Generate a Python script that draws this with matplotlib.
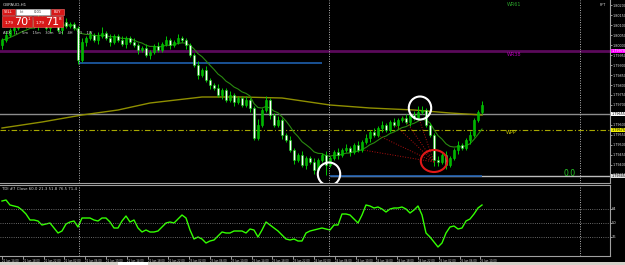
import matplotlib
matplotlib.use("Agg")
import matplotlib.pyplot as plt
import matplotlib.transforms as mtransforms
from matplotlib.patches import Rectangle, Ellipse
import numpy as np
import pandas as pd

# --- data ---
symbol = "GBPAUD,H1"
first_open = 1.80000
closes = [1.80025, 1.80050, 1.80075, 1.80085, 1.80100, 1.80115, 1.80105, 1.80125, 1.80095, 1.80135,
          1.80115, 1.80085, 1.80125, 1.80105, 1.80075, 1.80115, 1.80095, 1.80105, 1.80085, 1.79925,
          1.80015, 1.80035, 1.80050, 1.80025, 1.80045, 1.80060, 1.80035, 1.80015, 1.80045, 1.80025,
          1.80005, 1.80035, 1.80015, 1.80000, 1.79975, 1.79985, 1.79950, 1.79965, 1.79995, 1.79975,
          1.80005, 1.80025, 1.80000, 1.80015, 1.80035, 1.80025, 1.80000, 1.79950, 1.79900, 1.79850,
          1.79875, 1.79825, 1.79800, 1.79785, 1.79750, 1.79775, 1.79725, 1.79750, 1.79715, 1.79735,
          1.79700, 1.79725, 1.79685, 1.79535, 1.79600, 1.79675, 1.79725, 1.79650, 1.79600, 1.79625,
          1.79550, 1.79525, 1.79475, 1.79425, 1.79450, 1.79400, 1.79435, 1.79415, 1.79375, 1.79425,
          1.79450, 1.79400, 1.79435, 1.79465, 1.79450, 1.79475, 1.79485, 1.79465, 1.79500, 1.79475,
          1.79515, 1.79535, 1.79565, 1.79550, 1.79585, 1.79600, 1.79575, 1.79615, 1.79600, 1.79625,
          1.79635, 1.79615, 1.79650, 1.79635, 1.79665, 1.79675, 1.79600, 1.79550, 1.79425, 1.79415,
          1.79450, 1.79400, 1.79435, 1.79475, 1.79500, 1.79485, 1.79525, 1.79550, 1.79625, 1.79665,
          1.79700]
# wick lengths in pips
up_wick = [1, 2, 1, 2, 1, 3, 1, 2, 1, 2, 1, 2, 1, 1, 2, 1, 2, 1, 1, 1,
           2, 1, 2, 1, 2, 3, 1, 2, 1, 1, 2, 1, 1, 2, 1, 1, 2, 1, 1, 2,
           1, 2, 1, 1, 2, 1, 1, 1, 1, 2, 1, 2, 1, 1, 2, 1, 1, 2, 1, 1,
           1, 2, 1, 1, 3, 1, 2, 1, 1, 2, 1, 1, 2, 1, 1, 2, 1, 1, 2, 1,
           1, 2, 1, 1, 2, 1, 2, 1, 1, 2, 1, 2, 1, 2, 1, 2, 1, 1, 2, 1,
           1, 2, 1, 2, 3, 2, 1, 1, 1, 2, 1, 2, 1, 1, 2, 1, 1, 2, 1, 1,
           2]
dn_wick = [2, 1, 1, 2, 1, 1, 2, 1, 1, 2, 1, 1, 2, 1, 1, 2, 1, 1, 1, 2,
           1, 2, 1, 1, 2, 1, 1, 2, 1, 1, 1, 2, 1, 1, 2, 1, 1, 2, 1, 1,
           1, 1, 2, 1, 1, 1, 2, 1, 1, 2, 1, 1, 2, 1, 1, 2, 1, 1, 2, 1,
           1, 1, 2, 1, 1, 1, 1, 2, 1, 1, 2, 1, 1, 2, 1, 1, 2, 1, 2, 1,
           1, 5, 1, 1, 2, 1, 1, 2, 1, 1, 1, 1, 2, 1, 1, 2, 1, 1, 1, 2,
           1, 1, 2, 1, 1, 1, 1, 1, 3, 2, 1, 2, 1, 1, 2, 1, 1, 2, 1, 1,
           1]
osc = [72, 73, 68, 67, 66, 63, 59, 53, 53, 52, 48, 49, 50, 45, 40, 42, 49, 51, 52, 46,
       55, 55, 55, 53, 52, 55, 55, 51, 45, 45, 52, 57, 51, 53, 45, 41, 43, 41, 41, 42,
       46, 50, 51, 50, 54, 58, 55, 43, 34, 36, 34, 30, 32, 33, 37, 41, 40, 40, 42, 42,
       42, 40, 44, 43, 36, 43, 51, 48, 45, 42, 38, 34, 33, 34, 32, 32, 40, 42, 43, 44,
       45, 44, 43, 48, 48, 59, 59, 58, 54, 50, 58, 68, 67, 65, 66, 64, 61, 64, 65, 65,
       66, 64, 60, 63, 67, 58, 40, 36, 31, 26, 30, 40, 46, 47, 44, 45, 52, 54, 59, 65,
       68]
osc_levels = [36, 50, 64]
slow_ma_bars = [0, 10, 20, 29, 37, 50, 60, 70, 82, 92, 103, 112, 120]
slow_ma = [1.79585, 1.79615, 1.79650, 1.79675, 1.79710, 1.79740, 1.79740, 1.79735,
           1.79700, 1.79685, 1.79675, 1.79660, 1.79650]

level_gray = 1.79655
level_wr38 = 1.79970
level_wpp = 1.79575
level_fib0 = 1.79345
blue_lines = [(19, 80, 1.79910), (82, 120, 1.79345)]
separators = [19.25, 81.75, 144.5]
fan_anchor = (108, 1.79415)
fan_bars = [90.25, 92.75, 97.75, 100.25, 103.75]
fan_prices = [1.79475, 1.79560, 1.79610, 1.79640, 1.79660]
white_marks = [(81.75, 1.79355), (104.5, 1.79685)]
red_mark = (108, 1.79420)

time_labels = ["21 Jun 14:00", "21 Jun 18:00", "21 Jun 22:00", "22 Jun 02:00", "22 Jun 06:00",
               "22 Jun 10:00", "22 Jun 14:00", "22 Jun 18:00", "22 Jun 22:00", "23 Jun 02:00",
               "23 Jun 06:00", "23 Jun 10:00", "23 Jun 14:00", "23 Jun 18:00", "23 Jun 22:00",
               "24 Jun 02:00", "24 Jun 06:00", "24 Jun 10:00", "24 Jun 14:00", "24 Jun 18:00",
               "24 Jun 22:00", "25 Jun 02:00", "25 Jun 06:00", "25 Jun 10:00"]
bid_text = ("1.79", "70", "1")
ask_text = ("1.79", "71", "8")
tdi_text = "TDI #7 Close 60.0 21.3 51.8 76.5 71.4"

pip = 0.0001
opens = [first_open] + closes[:-1]
bars = np.arange(len(closes))
highs = [max(o, c) + u * pip for o, c, u in zip(opens, closes, up_wick)]
lows = [min(o, c) - d * pip for o, c, d in zip(opens, closes, dn_wick)]
fast_ma = pd.Series(closes).ewm(span=10, adjust=False).mean()

W, H = 625, 265
fig = plt.figure(figsize=(6.25, 2.65), dpi=100, facecolor="black")
ax = fig.add_axes([0, (H - 183) / H, 610 / W, 183 / H], facecolor="black")
ind = fig.add_axes([0, (H - 256) / H, 610 / W, 71 / H], facecolor="black")

grey = "#a0a0a0"
txt = "#d8d8d8"

# main chart
ax.set_xlim(-0.5, 152)
ax.set_ylim(1.79310, 1.80225)
ax.axhline(level_wr38, color="#5a0a5a", lw=2, zorder=1)
ax.axhline(level_gray, color="#8c8c8c", lw=1, zorder=1)
ax.axhline(level_wpp, color="#a8a800", lw=0.8, ls=(0, (5, 2, 1, 2)), zorder=1)
ax.hlines(level_fib0, 82, 152, color="#bdbdbd", lw=1, zorder=1)
for b0, b1, p in blue_lines:
    ax.hlines(p, b0, b1, color="#1f5fae", lw=1.2, zorder=2)
ax.plot(slow_ma_bars, slow_ma, color="#8f8f00", lw=1, zorder=2)
ax.plot(bars, fast_ma, color="#2a8a10", lw=0.8, zorder=2)

ax.vlines(bars, lows, highs, color="#00c800", lw=0.7, zorder=3)
for i, (o, c) in enumerate(zip(opens, closes)):
    up = c >= o
    ax.bar(i, max(abs(c - o), 0.00002), bottom=min(o, c), width=0.55,
           color="#00b400" if up else "white", edgecolor="#00c800", lw=0.4, zorder=4)

for b, p in zip(fan_bars, fan_prices):
    ax.plot([fan_anchor[0], b], [fan_anchor[1], p], color="#b01010", lw=0.7, ls=":", zorder=3)
for b, p in white_marks:
    ax.add_patch(Ellipse((b, p), 5.6, 0.00115, fill=False, ec="white", lw=1.5, zorder=6))
ax.add_patch(Ellipse(red_mark, 6.6, 0.00110, fill=False, ec="#e01818", lw=1.5, zorder=6))

ticks = np.arange(1.79350, 1.80210, 0.0005)
ax.set_yticks(ticks)
ax.set_yticklabels([f"{t:.5f}" for t in ticks])
ax.yaxis.tick_right()
ax.tick_params(axis="y", colors=txt, labelsize=2.4, length=1.2, pad=0.4, width=0.5)
ax.set_xticks([])
for s in ["top", "left"]:
    ax.spines[s].set_visible(False)
for s in ["right", "bottom"]:
    ax.spines[s].set_color(grey)

trans = mtransforms.blended_transform_factory(ax.transAxes, ax.transData)
for p, bg, fg in [(level_wr38, "#ff00ff", "white"), (level_gray, "white", "black"),
                  (level_wpp, "#f0f000", "black"), (level_fib0, "#e0e0e0", "black")]:
    ax.text(1.003, p, f"{p:.5f}", transform=trans, fontsize=2.4, color=fg, va="center",
            ha="left", bbox=dict(fc=bg, ec="none", pad=0.3), zorder=7, clip_on=False)

# indicator panel
ind.set_xlim(-0.5, 152)
ind.set_ylim(17, 88)
ind.plot(bars, osc, color="#33ff00", lw=1)
for lv in osc_levels:
    ind.axhline(lv, color="#8a8a8a", lw=0.6, ls=":")
ind.set_yticks(osc_levels)
ind.yaxis.tick_right()
ind.tick_params(axis="y", colors=txt, labelsize=2.6, length=1.2, pad=0.4, width=0.5)
ind.set_xticks(np.arange(len(time_labels)) * 5.2)
ind.set_xticklabels(time_labels)
for lbl in ind.get_xticklabels():
    lbl.set_ha("left")
ind.tick_params(axis="x", colors=txt, labelsize=1.9, length=2, pad=0.5, width=0.5)
ind.spines["left"].set_visible(False)
for s in ["top", "right", "bottom"]:
    ind.spines[s].set_color(grey)
ind.text(0.004, 0.97, tdi_text, transform=ind.transAxes, fontsize=2.8, color=txt, va="top")

for a in (ax, ind):
    for x in separators:
        a.axvline(x, color="#b8b8b8", lw=0.7, ls=(0, (1, 1.5)), zorder=2)

# overlay in pixel coordinates for the terminal decorations
ov = fig.add_axes([0, 0, 1, 1], facecolor="none", zorder=10)
ov.set_xlim(0, W)
ov.set_ylim(H, 0)
ov.axis("off")
ov.add_patch(Rectangle((0, 262), W, 3, fc="#d4d0c8", ec="none"))
ov.add_patch(Rectangle((118, 262), 30, 3, fc="white", ec="none"))
ov.text(3, 4.5, symbol, fontsize=3, color=txt, va="center")
red = "#d81818"
for x0, w in [(2, 13), (51, 13)]:
    ov.add_patch(Rectangle((x0, 9), w, 6, fc=red, ec="#ff7070", lw=0.4))
ov.add_patch(Rectangle((16, 9), 34, 6, fc="white", ec="#c0c0c0", lw=0.4))
ov.text(8.5, 12, "SELL", fontsize=2.6, color="white", ha="center", va="center")
ov.text(57.5, 12, "BUY", fontsize=2.6, color="white", ha="center", va="center")
ov.text(20, 12, "lot", fontsize=2.4, color="#606060", va="center")
ov.text(38, 12, "0.01", fontsize=2.6, color="#303030", ha="center", va="center")
for x0, (small, big, sup) in [(2, bid_text), (33, ask_text)]:
    ov.add_patch(Rectangle((x0, 16), 30, 11, fc=red, ec="#ff6060", lw=0.4))
    ov.text(x0 + 3, 23, small, fontsize=3, color="white", va="center")
    ov.text(x0 + 12, 22, big, fontsize=8, color="white", va="center")
    ov.text(x0 + 26, 18.5, sup, fontsize=3, color="white", va="center")
ov.text(3, 33, "ADX    1    5m    15m    30m    1H    4H    1D    1W", fontsize=2.6,
        color=txt, va="center")
ov.text(507, 5, "WR61", fontsize=3.5, color="#2aa02a", va="center")
ov.text(507, 54, "WR38", fontsize=3.5, color="#b000b0", va="center")
ov.text(506, 133, "WPP", fontsize=3.5, color="#c8c800", va="center")
ov.text(563, 173, "0.0", fontsize=5.5, color="#2ad02a", va="center")
ov.text(600, 5, "FFT", fontsize=2.6, color=txt, va="center")

fig.savefig("out.png", dpi=100, facecolor="black")
